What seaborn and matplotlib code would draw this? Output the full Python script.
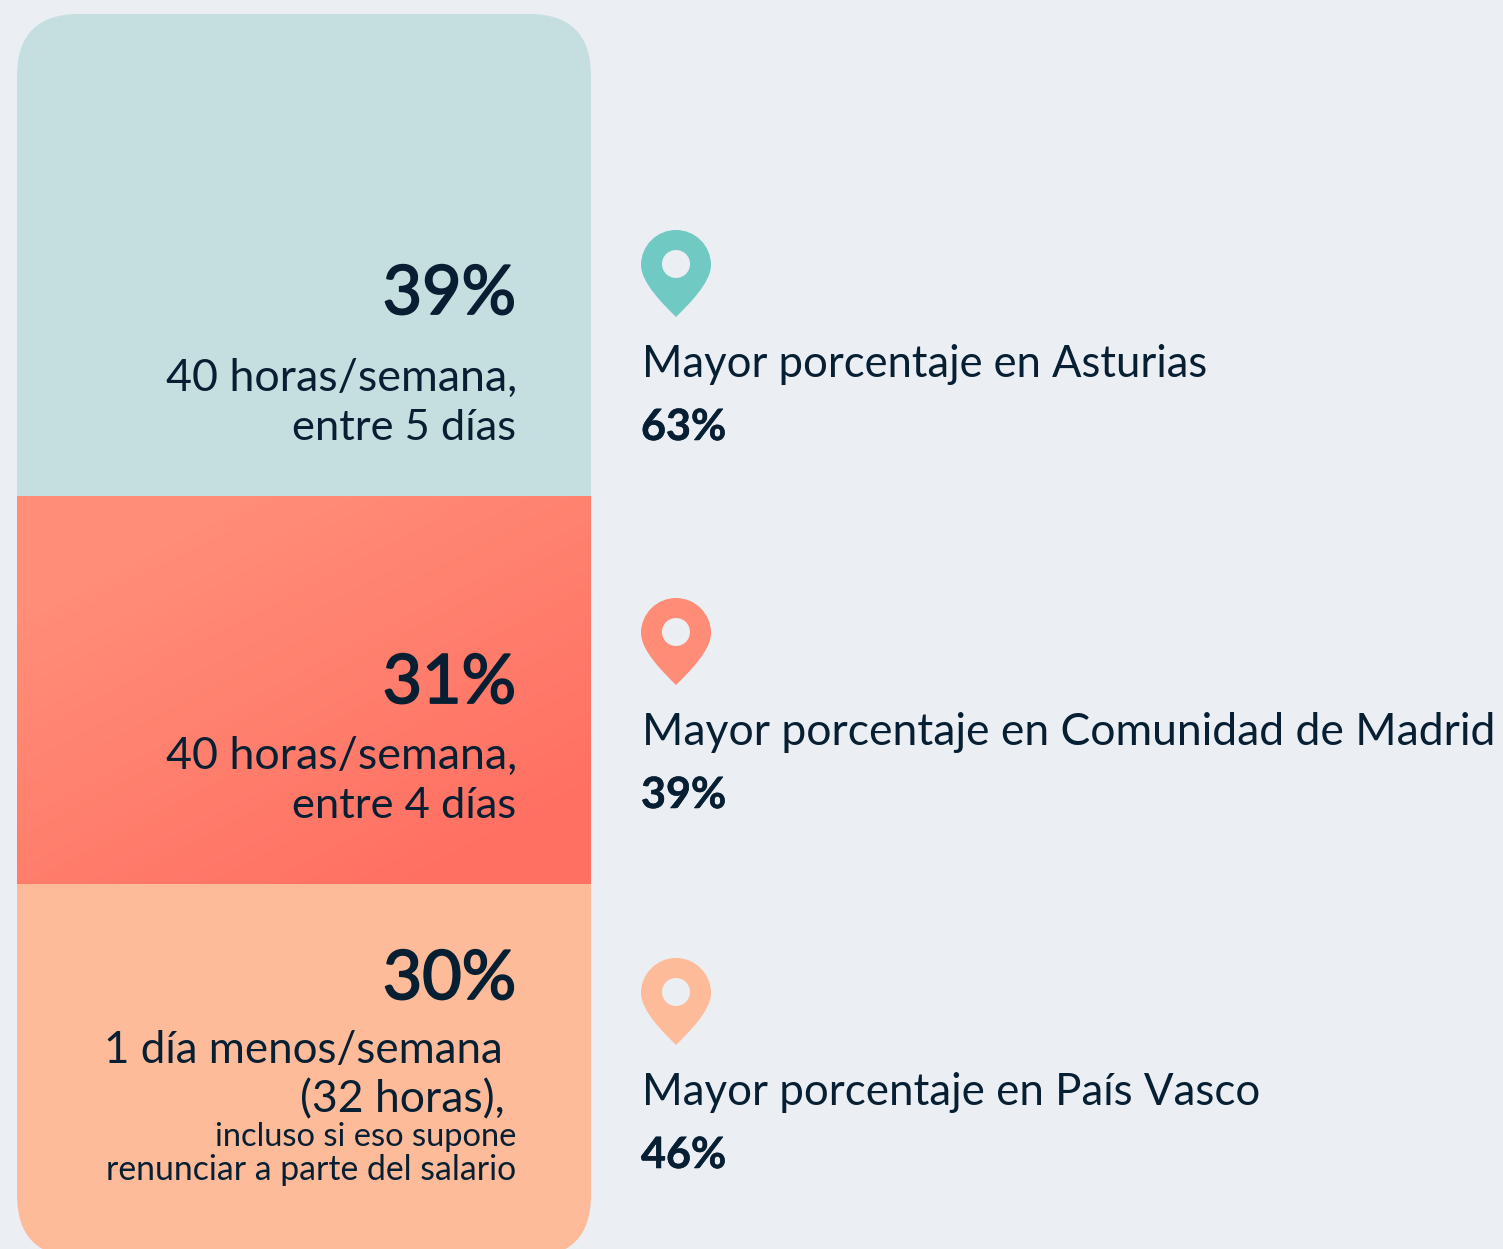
import numpy as np
import pandas as pd
import matplotlib
matplotlib.use("Agg")
import matplotlib.pyplot as plt
import matplotlib.patheffects as pe
import seaborn as sns
from matplotlib.patches import FancyBboxPatch, PathPatch, Circle
from matplotlib.path import Path
from matplotlib.transforms import Affine2D

# ---- data ----
options = ["40 horas/semana, entre 5 días", "40 horas/semana, entre 4 días", "1 día menos/semana (32 horas)"]
segment_shares = [38.8, 31.2, 30.0]          # heights as drawn
share_labels = ["39%", "31%", "30%"]
region_lines = ["Mayor porcentaje en Asturias", "Mayor porcentaje en Comunidad de Madrid", "Mayor porcentaje en País Vasco"]
region_values = ["63%", "39%", "46%"]
option_lines = [["40 horas/semana,", "entre 5 días"], ["40 horas/semana,", "entre 4 días"], ["1 día menos/semana", "(32 horas),"]]
footnote_lines = ["incluso si eso supone", "renunciar a parte del salario"]

# ---- style ----
W, H = 1503, 1249
BG = "#EBEEF3"
INK = "#071F33"
BAR_COLORS = ["#C5DEDF", "#FF7A68", "#FEBB99"]
PIN_COLORS = ["#70CAC3", "#FF8C76", "#FEBB99"]

sns.set_theme(style="white", rc={"figure.facecolor": BG, "axes.facecolor": "none", "savefig.facecolor": BG})
plt.rcParams["font.family"] = ["Lato", "DejaVu Sans"]

fig = plt.figure(figsize=(W / 100, H / 100), dpi=100)

# pixel helpers
BAR_L, BAR_R, BAR_T, BAR_B = 17, 591, 14, 1257
px = Affine2D().scale(1, -1).translate(0, H)   # display px, origin top-left
r = 62
clip = FancyBboxPatch((BAR_L + r, BAR_T + r), BAR_R - BAR_L - 2 * r, BAR_B - BAR_T - 2 * r,
                      boxstyle=f"round,pad={r},rounding_size={r}")
clip_path = clip.get_path()

# stacked bar
ax = fig.add_axes([BAR_L / W, (H - BAR_B) / H, (BAR_R - BAR_L) / W, (BAR_B - BAR_T) / H])
df = pd.DataFrame({"option": options, "share": segment_shares})
df["bottom"] = df["share"].cumsum().shift(fill_value=0)
df["group"] = "total"
for i, row in df.iterrows():
    sns.barplot(data=df.iloc[[i]], x="group", y="share", bottom=row["bottom"], color=BAR_COLORS[i],
                width=1, saturation=1, errorbar=None, ax=ax, linewidth=0)
ax.set_xlim(-0.5, 0.5)
ax.set_ylim(100, 0)
ax.axis("off")
for p in ax.patches:
    p.set_clip_path(clip_path, px)

# gradient on the middle segment
gy, gx = np.mgrid[496:884, 17:591]
t = np.clip(((gx - 17) * 0.28 + (gy - 496) * 0.53 - 60) / 250, 0, 1)
c0, c1 = np.array(matplotlib.colors.to_rgb("#FF8E78")), np.array(matplotlib.colors.to_rgb("#FF7163"))
img = c0[None, None, :] * (1 - t[..., None]) + c1[None, None, :] * t[..., None]
b0 = df.loc[1, "bottom"]
ax.imshow(img, extent=(-0.5, 0.5, b0 + df.loc[1, "share"], b0), aspect="auto", zorder=3, interpolation="bilinear")
ax.set_xlim(-0.5, 0.5)
ax.set_ylim(100, 0)

# overlay in pixel coordinates for annotations
ov = fig.add_axes([0, 0, 1, 1])
ov.set_xlim(0, W)
ov.set_ylim(H, 0)
ov.axis("off")

def label(x, y, s, size, ha="right", weight="normal", stroke=0):
    t = ov.text(x, y, s, fontsize=size, ha=ha, va="baseline", color=INK, fontweight=weight)
    if stroke:
        t.set_path_effects([pe.withStroke(linewidth=stroke, foreground=INK)])

big_y = [314, 703, 999]
for s, y in zip(share_labels, big_y):
    label(516, y, s, 49, stroke=1.3)
line_y = [[391, 440], [769, 818], [1063, 1112]]
line_x = [[517, 516], [517, 516], [503, 505]]
line_size = [[32.2, 31.3], [32.2, 31.3], [31.6, 32]]
for lines, ys, xs, ss in zip(option_lines, line_y, line_x, line_size):
    for s, y, x, z in zip(lines, ys, xs, ss):
        label(x, y, s, z)
for s, y, z in zip(footnote_lines, [1146, 1180], [23.5, 24.3]):
    label(516, y, s, z)

def pin(cx, top, color):
    head = 35
    cy = top + head
    tip = top + 87
    k = 0.5523 * head
    verts = [
        (cx, top),
        (cx + k, top), (cx + head, cy - k), (cx + head, cy),
        (cx + head, cy + 18), (cx + 12, tip - 12), (cx, tip),
        (cx - 12, tip - 12), (cx - head, cy + 18), (cx - head, cy),
        (cx - head, cy - k), (cx - k, top), (cx, top),
        (cx, top),
    ]
    codes = [Path.MOVETO] + [Path.CURVE4] * 12 + [Path.CLOSEPOLY]
    ov.add_patch(PathPatch(Path(verts, codes), facecolor=color, edgecolor="none"))
    ov.add_patch(Circle((cx, cy - 1), 14, facecolor=BG, edgecolor="none"))

pin_top = [230, 598, 958]
text_y = [377, 745, 1105]
value_y = [440, 808, 1168]
region_size = [31.4, 32, 31.6]
for i in range(3):
    pin(676, pin_top[i], PIN_COLORS[i])
    label(642, text_y[i], region_lines[i], region_size[i], ha="left")
    label(641, value_y[i], region_values[i], 31, ha="left", weight="bold", stroke=0.4)

fig.savefig("out.png", dpi=100, facecolor=BG)
